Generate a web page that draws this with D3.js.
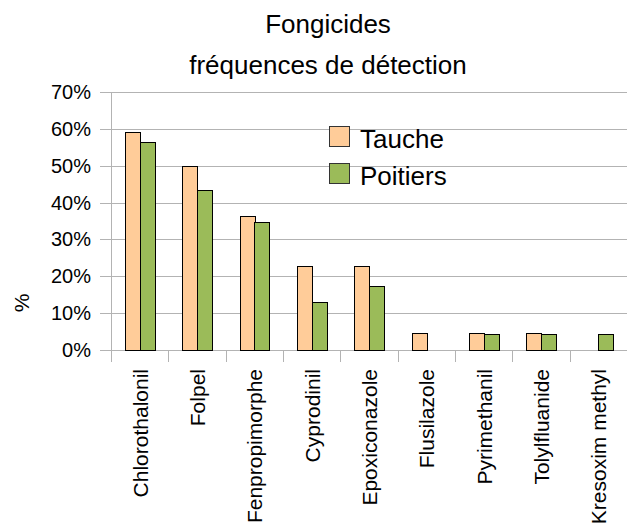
<!DOCTYPE html>
<html><head><meta charset="utf-8">
<script src="https://cdn.jsdelivr.net/npm/d3@7"></script>
<style>body{margin:0;background:#fff}svg{display:block}text{font-family:"Liberation Sans",Arial,sans-serif;fill:#000}</style>
</head><body>
<script>
const categories = ["Chlorothalonil","Folpel","Fenpropimorphe","Cyprodinil","Epoxiconazole","Flusilazole","Pyrimethanil","Tolylfluanide","Kresoxim methyl"];
const seriesNames = ["Tauche","Poitiers"];
const tauche = [0.591,0.5,0.364,0.227,0.227,0.045,0.045,0.045,0];
const poitiers = [0.565,0.435,0.348,0.130,0.174,0,0.0435,0.0435,0.0435];
const yTicks = [0,0.1,0.2,0.3,0.4,0.5,0.6,0.7];
const colors = ["#ffcc99","#9bbb59"];

(function(){
const W=627,H=525;
const svg=d3.select("body").append("svg").attr("width",W).attr("height",H);
const pL=111, pR=627, pT=92, pB=350;
const x=d3.scaleBand().domain(categories).range([pL,pR]).padding(0);
const y=d3.scaleLinear().domain([0,0.7]).range([pB,pT]);
const bw=x.bandwidth();
const xs=d3.scaleBand().domain(seriesNames).range([0,29.4]);

svg.append("g").selectAll("line").data(yTicks).join("line")
  .attr("x1",100).attr("x2",pR).attr("y1",d=>Math.round(y(d))+0.5).attr("y2",d=>Math.round(y(d))+0.5)
  .attr("stroke","#b3b3b3").attr("stroke-width",1);
svg.append("line").attr("x1",pL+0.5).attr("x2",pL+0.5).attr("y1",pT).attr("y2",pB+12).attr("stroke","#b3b3b3");
svg.append("g").selectAll("line").data(categories).join("line")
  .attr("x1",(d,i)=>Math.round(pL+(i+1)*bw)+0.5).attr("x2",(d,i)=>Math.round(pL+(i+1)*bw)+0.5)
  .attr("y1",pB).attr("y2",pB+12).attr("stroke","#b3b3b3");

svg.append("g").selectAll("text").data(yTicks).join("text")
  .attr("x",91).attr("y",d=>y(d)+7).attr("text-anchor","end").attr("font-size",20)
  .text(d=>d3.format(".0%")(d));

const data=[tauche,poitiers];
const g=svg.append("g");
seriesNames.forEach((s,si)=>{
  g.selectAll(null).data(categories).join("rect")
    .attr("x",(c)=>Math.round(x(c)+bw/2-14.7+xs(s))+0.5)
    .attr("y",(c,i)=>Math.round(y(data[si][i]))+0.5)
    .attr("width",Math.round(xs.bandwidth()))
    .attr("height",(c,i)=>Math.max(0,Math.round(y(0))-Math.round(y(data[si][i]))))
    .attr("fill",colors[si]).attr("stroke","#000").attr("stroke-width",1)
    .attr("display",(c,i)=>data[si][i]>0?null:"none");
});

svg.append("g").selectAll("text").data(categories).join("text")
  .attr("transform",c=>`translate(${x(c)+bw/2+8},369) rotate(-90)`)
  .attr("text-anchor","end").attr("font-size",21).text(c=>c);

svg.append("text").attr("transform","translate(29,303) rotate(-90)").attr("text-anchor","middle").attr("font-size",21).text("%");

svg.append("text").attr("x",328).attr("y",33).attr("text-anchor","middle").attr("font-size",26).text("Fongicides");
svg.append("text").attr("x",328).attr("y",74).attr("text-anchor","middle").attr("font-size",26).text("fréquences de détection");

const lg=svg.append("g");
seriesNames.forEach((s,i)=>{
  lg.append("rect").attr("x",329.5).attr("y",126.5+i*37).attr("width",20).attr("height",20)
    .attr("fill",colors[i]).attr("stroke","#333");
  lg.append("text").attr("x",360).attr("y",148+i*37).attr("font-size",26).text(s);
});
})();
</script>
</body></html>
